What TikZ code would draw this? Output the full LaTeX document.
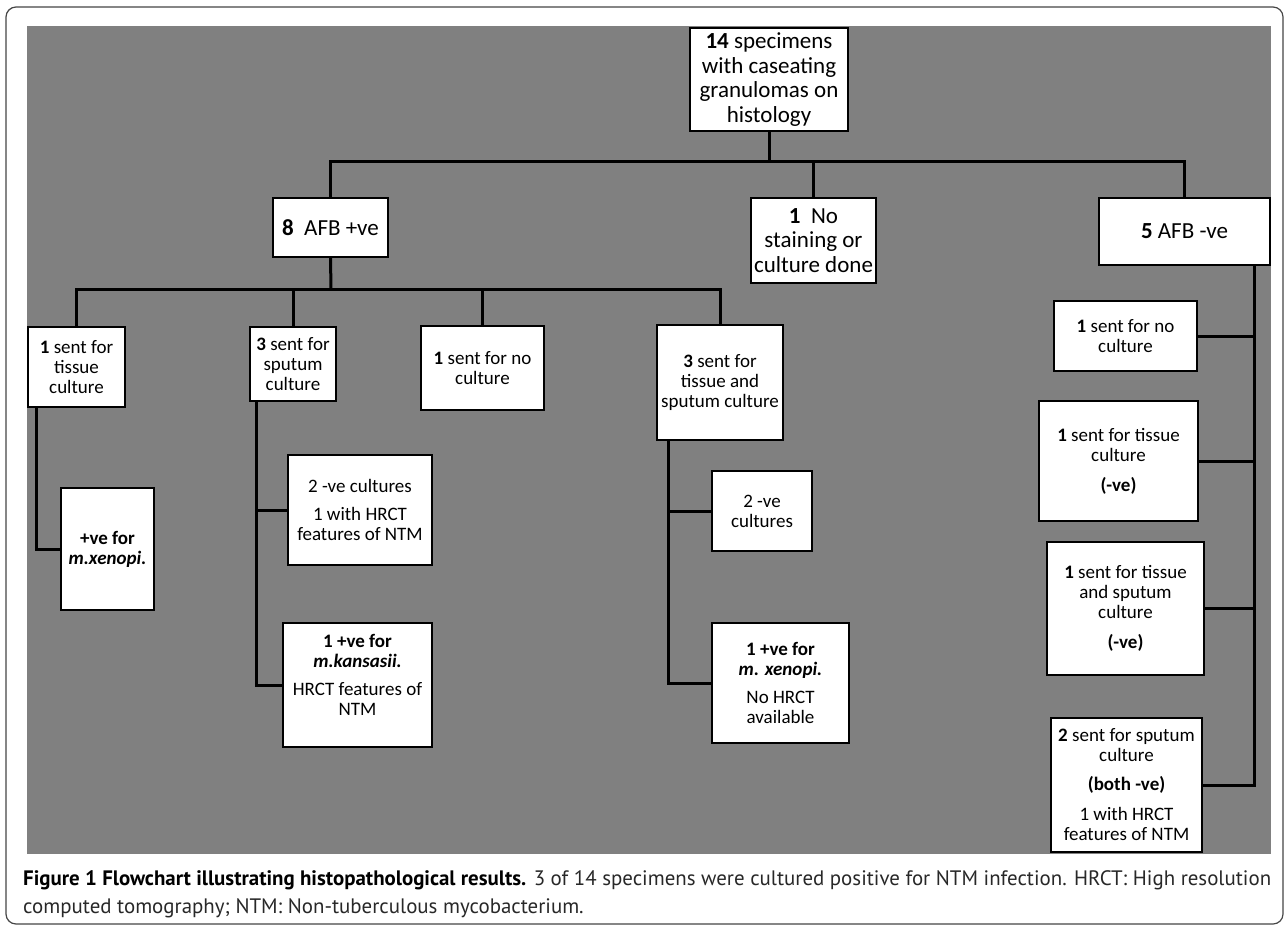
\documentclass[tikz,border=0pt]{standalone}
\usepackage{fontspec}
\setmainfont{Carlito}
\newfontfamily\capfont{PT Sans}
\usetikzlibrary{calc}
\definecolor{bggray}{RGB}{128,128,128}
\definecolor{framegray}{RGB}{70,70,70}
\definecolor{captext}{RGB}{40,40,40}
\newcommand{\bigtxt}{\fontsize{23}{24.5}\selectfont}
\newcommand{\smtxt}{\fontsize{19}{20}\selectfont}
\newcommand{\captxt}{\capfont\fontsize{20.9}{22}\selectfont}

\begin{document}
\begin{tikzpicture}[x=1pt,y=-1pt,
  box/.style 2 args={draw,fill=white,line width=2.4pt,align=center,inner sep=1pt,minimum width=#1,minimum height=#2},
  big/.style 2 args={box={#1}{#2},font=\bigtxt},
  small/.style 2 args={box={#1}{#2},font=\smtxt},
  link/.style={line width=3pt}]

\useasboundingbox (0,0) rectangle (1287,926);
\fill[white] (0,0) rectangle (1287,926);
\draw[framegray,line width=1.2pt,rounded corners=10pt] (6,7) rectangle (1283,924);
\fill[bggray] (27,26) rectangle (1271,854);

% top and first split
\node[big={158}{103}] (top) at (769,79.5) {\textbf{14} specimens\\with caseating\\granulomas on\\histology};
\node[big={115}{59}] (afbpos) at (330.5,227.5) {\textbf{8}\ \ AFB +ve};
\node[big={125}{85}] (nostain) at (813.5,240.5) {\textbf{1}\ \ No\\staining or\\culture done};
\node[big={171}{67}] (afbneg) at (1184.5,231.5) {\textbf{5} AFB -ve};

% AFB +ve branch
\node[small={97}{80}] (tissue) at (76.5,367) {\textbf{1} sent for\\tissue\\culture};
\node[small={86}{74}] (sputum) at (293,364) {\textbf{3} sent for\\sputum\\culture};
\node[small={123}{84}] (noculture) at (482.5,368) {\textbf{1} sent for no\\culture};
\node[small={126}{115}] (tissput) at (720,382.5) {\textbf{3} sent for\\tissue and\\sputum culture};

\node[small={93}{122}] (xenopi) at (107.5,549) {\textbf{+ve for}\\\textbf{\textit{m.xenopi.}}};
\node[small={144}{110}] (spneg) at (360,510) {2 -ve cultures\\[8pt]1 with HRCT\\features of NTM};
\node[small={149}{124}] (kansasii) at (357.5,685) {\textbf{1 +ve for}\\\textbf{\textit{m.kansasii.}}\\[8pt]HRCT features of\\NTM\\\mbox{}};
\node[small={100}{80}] (tsneg) at (762,511) {2 -ve\\cultures};
\node[small={137}{120}] (tspos) at (780.5,683) {\textbf{1 +ve for}\\\textbf{\textit{m. xenopi.}}\\[8pt]No HRCT\\available};

% AFB -ve branch
\node[small={143}{70}] (rnoculture) at (1125.5,336) {\textbf{1} sent for no\\culture};
\node[small={159}{120}] (rtissue) at (1118.5,461) {\textbf{1} sent for tissue\\culture\\[10pt]\textbf{(-ve)}};
\node[small={157}{133}] (rtissput) at (1125.5,608.5) {\textbf{1} sent for tissue\\and sputum\\culture\\[10pt]\textbf{(-ve)}};
\node[small={151}{134}] (rsputum) at (1126.5,785) {\textbf{2} sent for sputum\\culture\\[9pt]\textbf{(both -ve)}\\[10pt]1 with HRCT\\features of NTM};

% connectors
\coordinate (busA) at (769,161);
\coordinate (busB) at (331,289);
\draw[link] (top.south) -- (busA);
\draw[link] (afbpos.north) |- (busA);
\draw[link] (afbneg.north) |- (busA);
\draw[link] (nostain.north) -- (nostain.north |- busA);
\draw[link] (afbpos.south) -- (busB);
\draw[link] (tissue.north) |- (busB);
\draw[link] (tissput.north) |- (busB);
\foreach \n in {sputum,noculture}
  \draw[link] (\n.north) -- (\n.north |- busB);

\coordinate (tstem) at ($(tissue.south west)+(10,0)$);
\coordinate (sstem) at ($(sputum.south west)+(8,0)$);
\coordinate (pstem) at ($(tissput.south west)+(13,0)$);
\coordinate (nstem) at ($(afbneg.south east)+(-17,0)$);
\draw[link] (tstem) |- (xenopi.west);
\foreach \n in {spneg,kansasii}
  \draw[link] (sstem) |- (\n.west);
\foreach \n in {tsneg,tspos}
  \draw[link] (pstem) |- (\n.west);
\foreach \n in {rnoculture,rtissue,rtissput,rsputum}
  \draw[link] (nstem) |- (\n.east);

% caption
\node[anchor=west,inner sep=0,font=\captxt,text=captext] (cap1) at (23,880) {\textcolor{black}{\textbf{Figure 1 Flowchart illustrating histopathological results.}} 3 of 14 specimens were cultured positive for NTM infection. HRCT: High resolution};
\node[anchor=west,inner sep=0,font=\captxt,text=captext] (cap2) at (23,908) {computed tomography; NTM: Non-tuberculous mycobacterium.};
\end{tikzpicture}
\end{document}
